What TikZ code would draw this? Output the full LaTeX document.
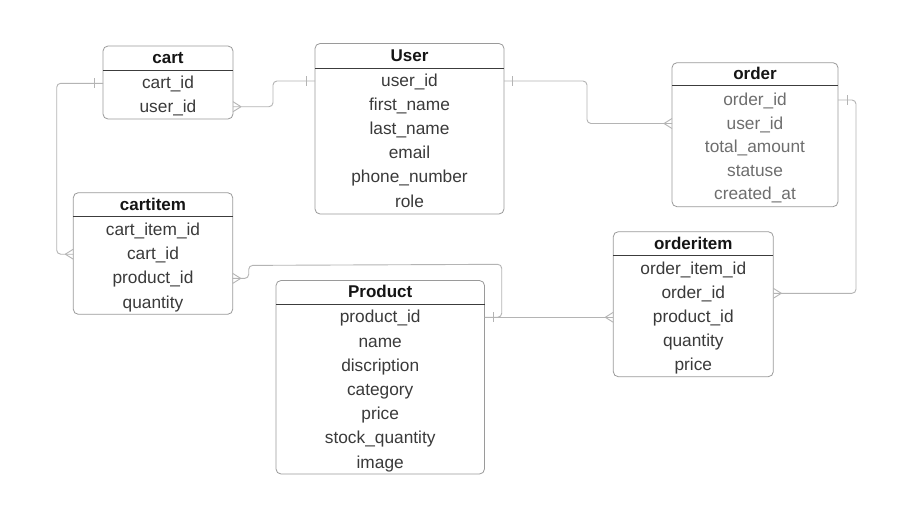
\documentclass[tikz,border=0pt]{standalone}
\usepackage{fontspec}
\setmainfont{Liberation Sans}
\definecolor{boxc}{HTML}{9A9A9A}
\definecolor{rulec}{HTML}{3C3C3C}
\definecolor{fldc}{HTML}{3A3A3A}
\definecolor{fldg}{HTML}{6E6E6E}
\definecolor{hdrc}{HTML}{151515}
\definecolor{conc}{HTML}{B4B4B4}
\begin{document}
\begin{tikzpicture}[x=1pt,y=-1pt,
  tbl/.style={draw=boxc,line width=0.8pt,rounded corners=5pt,anchor=north west,inner sep=0pt,outer sep=0pt},
  hdr/.style={font=\fontsize{17}{20}\selectfont\bfseries,text=hdrc,inner sep=0pt,text height=14pt,text depth=3pt},
  fld/.style={font=\fontsize{17.3}{20}\selectfont,text=fldc,inner sep=0pt,text height=14pt,text depth=3pt},
  fldgray/.style={fld,text=fldg},
  hrule/.style={draw=rulec,line width=0.9pt},
  conn/.style={draw=conc,line width=0.9pt,rounded corners=4pt},
  ermark/.style={draw=conc,line width=0.9pt}]
\useasboundingbox (0,0) rectangle (898,512);
\fill[white] (0,0) rectangle (898,512);

% ---- cart
\node[tbl,minimum width=130pt,minimum height=73pt] (cart) at (103,46) {};
\node[hdr] (cart-h) at (168,58) {cart};
\draw[hrule] (cart.west |- 0,70) -- (cart.east |- 0,70);
\foreach \t [count=\i] in {cart\_id,user\_id}
  \node[fld] (cart-\i) at (168,83.3+23.4*\i-23.4) {\t};

% ---- User
\node[tbl,minimum width=189pt,minimum height=170.5pt] (user) at (315,43.5) {};
\node[hdr] (user-h) at (409.5,56) {User};
\draw[hrule] (user.west |- 0,68.3) -- (user.east |- 0,68.3);
\foreach \t [count=\i] in {user\_id,first\_name,last\_name,email,phone\_number,role}
  \node[fld] (user-\i) at (409.5,81+24.1*\i-24.1) {\t};

% ---- order
\node[tbl,minimum width=166pt,minimum height=144pt] (order) at (672,62.7) {};
\node[hdr] (order-h) at (755,74) {order};
\draw[hrule] (order.west |- 0,85.3) -- (order.east |- 0,85.3);
\foreach \t [count=\i] in {order\_id,user\_id,total\_amount,statuse,created\_at}
  \node[fldgray] (order-\i) at (755,100+23.5*\i-23.5) {\t};

% ---- cartitem
\node[tbl,minimum width=159.4pt,minimum height=121.6pt] (ci) at (73.3,192.7) {};
\node[hdr] (ci-h) at (153,204.5) {cartitem};
\draw[hrule] (ci.west |- 0,216.7) -- (ci.east |- 0,216.7);
\foreach \t [count=\i] in {cart\_item\_id,cart\_id,product\_id,quantity}
  \node[fld] (ci-\i) at (153,230+24.2*\i-24.2) {\t};

% ---- Product
\node[tbl,minimum width=208.5pt,minimum height=193.5pt] (prod) at (276,280.5) {};
\node[hdr] (prod-h) at (380.2,292.3) {Product};
\draw[hrule] (prod.west |- 0,304.3) -- (prod.east |- 0,304.3);
\foreach \t [count=\i] in {product\_id,name,discription,category,price,stock\_quantity,image}
  \node[fld] (prod-\i) at (380.2,317.3+24.2*\i-24.2) {\t};

% ---- orderitem
\node[tbl,minimum width=160pt,minimum height=145pt] (oi) at (613.3,231.7) {};
\node[hdr] (oi-h) at (693.3,243.5) {orderitem};
\draw[hrule] (oi.west |- 0,255.7) -- (oi.east |- 0,255.7);
\foreach \t [count=\i] in {order\_item\_id,order\_id,product\_id,quantity,price}
  \node[fld] (oi-\i) at (693.3,269.3+24*\i-24) {\t};

% ---- connectors
% cart.cart_id -> cartitem.cart_id
\draw[conn] (cart.west |- cart-1) -- ++(-46.3,0) |- (ci.west |- ci-2);
\draw[ermark] (cart.west |- cart-1) ++(-9,-5) -- ++(0,10);
\draw[ermark] (ci.west |- ci-2) ++(-8,0) -- ++(8,-5) (ci.west |- ci-2) ++(-8,0) -- ++(8,5);

% cart.user_id -> User.user_id
\draw[conn] (cart.east |- cart-2) -- ++(40,0) |- (user.west |- user-1);
\draw[ermark] (cart.east |- cart-2) ++(8,0) -- ++(-8,-5) (cart.east |- cart-2) ++(8,0) -- ++(-8,5);
\draw[ermark] (user.west |- user-1) ++(-9,-5) -- ++(0,10);

% User.user_id -> order.user_id
\draw[conn] (user.east |- user-1) -- ++(83,0) |- (order.west |- order-2);
\draw[ermark] (user.east |- user-1) ++(8,-5) -- ++(0,10);
\draw[ermark] (order.west |- order-2) ++(-8,0) -- ++(8,-5) (order.west |- order-2) ++(-8,0) -- ++(8,5);

% order.order_id -> orderitem.order_id
\draw[conn] (order.east |- order-1) -- ++(18,0) |- (oi.east |- oi-2);
\draw[ermark] (order.east |- order-1) ++(9,-5) -- ++(0,10);
\draw[ermark] (oi.east |- oi-2) ++(8,0) -- ++(-8,-5) (oi.east |- oi-2) ++(8,0) -- ++(-8,5);

% cartitem.product_id -> Product.product_id
\draw[conn] (ci.east |- ci-3) -- ++(16,0) -- ++(0,-13) -- (501.7,264.3) |- (prod.east |- prod-1);
\draw[ermark] (ci.east |- ci-3) ++(8,0) -- ++(-8,-5) (ci.east |- ci-3) ++(8,0) -- ++(-8,5);

% Product.product_id -> orderitem.product_id
\draw[conn] (prod.east |- prod-1) -- (oi.west |- oi-3);
\draw[ermark] (prod.east |- prod-1) ++(8.5,-5) -- ++(0,10);
\draw[ermark] (oi.west |- oi-3) ++(-8,0) -- ++(8,-5) (oi.west |- oi-3) ++(-8,0) -- ++(8,5);
\end{tikzpicture}
\end{document}
